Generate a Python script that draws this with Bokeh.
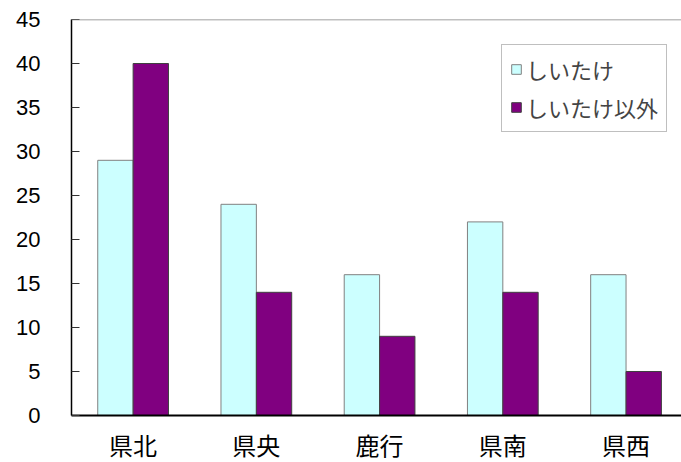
from bokeh.plotting import figure
from bokeh.models import ColumnDataSource, Range1d, Legend, LegendItem, Span, FixedTicker
from bokeh.transform import dodge
from bokeh.embed import file_html
from bokeh.resources import INLINE

regions = ["県北", "県央", "鹿行", "県南", "県西"]
shiitake = [29, 24, 16, 22, 16]
other = [40, 14, 9, 14, 5]
series_names = ["しいたけ", "しいたけ以外"]
y_ticks = [0, 5, 10, 15, 20, 25, 30, 35, 40, 45]

pos = [i + 0.5 for i in range(len(regions))]
source = ColumnDataSource(data=dict(pos=pos, region=regions, shiitake=shiitake, other=other))

p = figure(width=681, height=462, x_range=Range1d(0, 4.95),
           y_range=Range1d(0, 45), output_backend="svg", toolbar_location=None,
           min_border_left=71, min_border_top=19, min_border_right=0, min_border_bottom=47)
p.outline_line_color = None
p.xgrid.visible = False
p.ygrid.visible = False
p.background_fill_color = "white"
p.border_fill_color = "white"

bw = 0.287
r1 = p.vbar(x=dodge("pos", -bw / 2), top="shiitake", width=bw, source=source,
            fill_color="#CCFFFF", line_color="#808080", line_width=1)
r2 = p.vbar(x=dodge("pos", bw / 2), top="other", width=bw, source=source,
            fill_color="#800080", line_color="#404040", line_width=1)

p.add_layout(Span(location=45, dimension="width", line_color="#808080", line_width=1.5))

# y axis
p.yaxis.ticker = FixedTicker(ticks=y_ticks)
p.yaxis.major_tick_in = 8
p.yaxis.major_tick_out = 0
p.yaxis.minor_tick_line_color = None
p.yaxis.major_tick_line_color = "#333333"
p.yaxis.axis_line_color = "black"
p.yaxis.axis_line_width = 1.5
p.yaxis.major_label_text_font = "Liberation Sans"
p.yaxis.major_label_text_font_size = "22px"
p.yaxis.major_label_text_color = "black"
p.yaxis.major_label_standoff = 31

# x axis
p.xaxis.ticker = FixedTicker(ticks=pos)
p.xaxis.major_label_overrides = {x: name for x, name in zip(pos, regions)}
p.xaxis.major_tick_line_color = None
p.xaxis.minor_tick_line_color = None
p.xaxis.axis_line_color = "black"
p.xaxis.axis_line_width = 2
p.xaxis.major_label_text_font = "Liberation Sans, Noto Sans CJK JP"
p.xaxis.major_label_text_font_size = "24px"
p.xaxis.major_label_text_color = "black"
p.xaxis.major_label_standoff = 11

legend = Legend(items=[LegendItem(label=series_names[0], renderers=[r1]),
                       LegendItem(label=series_names[1], renderers=[r2])],
                location=(430, 283), margin=0, padding=8, spacing=6,
                glyph_width=12, glyph_height=12, label_standoff=4,
                label_text_font="Noto Sans CJK JP", label_text_font_size="22px",
                border_line_color="#808080", border_line_width=1.5,
                background_fill_color="white", background_fill_alpha=1)
p.add_layout(legend, "center")

open("out.html", "w").write(file_html(p, INLINE))
